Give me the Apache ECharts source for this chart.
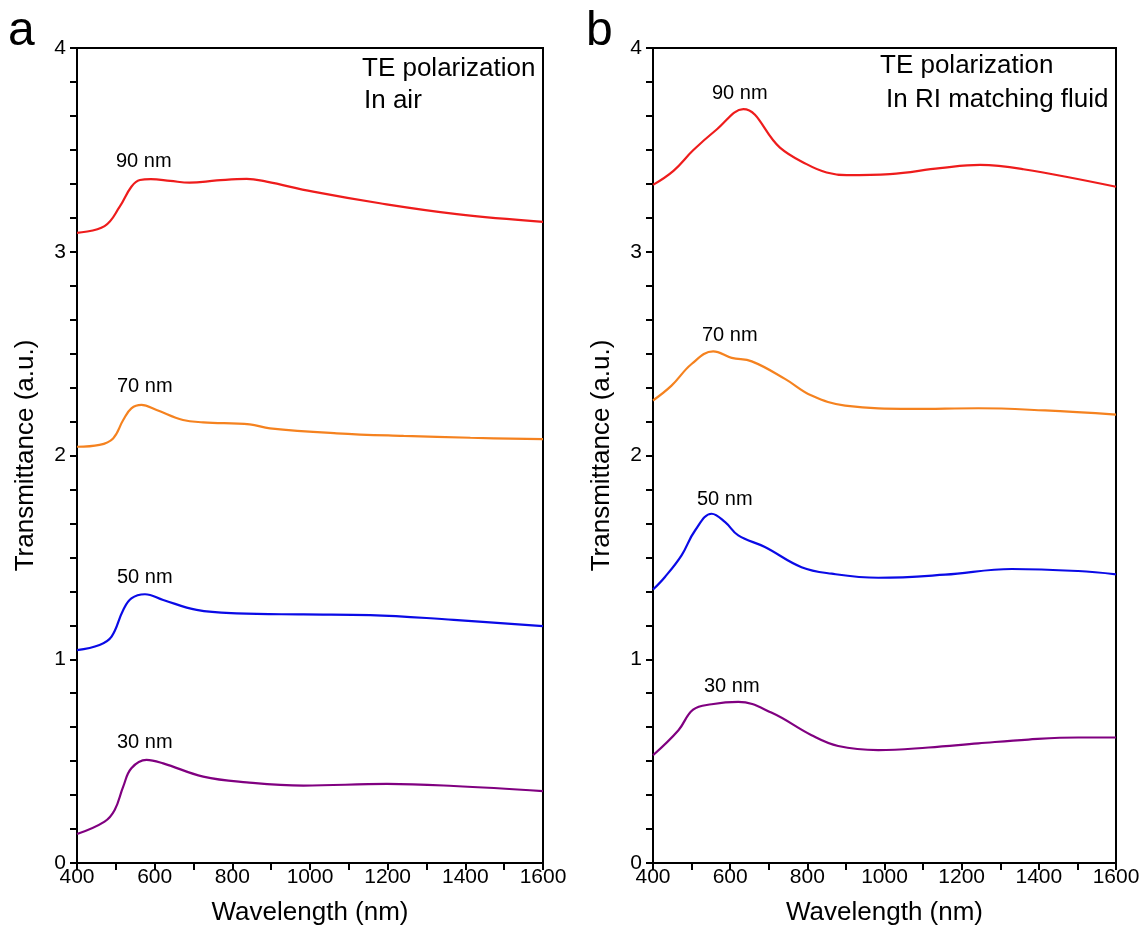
<!DOCTYPE html>
<html>
<head>
<meta charset="utf-8">
<script src="https://cdn.jsdelivr.net/npm/echarts@6/dist/echarts.min.js"></script>
<style>
html,body{margin:0;padding:0;background:#fff;}
#chart{width:1146px;height:926px;}
</style>
</head>
<body>
<div id="chart"></div>
<script>
// ---- Data (wavelength nm, transmittance a.u.) ----
const xTicks = [400, 600, 800, 1000, 1200, 1400, 1600];
const yTicks = [0, 1, 2, 3, 4];

// Panel a: TE polarization, in air
const a90 = [[400,3.093],[471,3.126],[510,3.221],[540,3.319],[562,3.352],[590,3.356],[640,3.348],[690,3.339],[760,3.350],[837,3.358],[888,3.344],[1008,3.295],[1180,3.238],[1378,3.185],[1600,3.147]];
const a70 = [[400,2.043],[458,2.052],[493,2.084],[519,2.174],[540,2.231],[566,2.248],[605,2.223],[673,2.174],[725,2.163],[845,2.153],[897,2.133],[1069,2.109],[1241,2.096],[1413,2.087],[1600,2.080]];
const a50 = [[400,1.045],[458,1.070],[489,1.111],[519,1.242],[540,1.299],[575,1.319],[622,1.291],[708,1.242],[811,1.225],[983,1.220],[1155,1.217],[1370,1.193],[1600,1.163]];
const a30 = [[400,0.142],[471,0.203],[497,0.260],[519,0.375],[540,0.465],[579,0.506],[622,0.489],[725,0.424],[837,0.396],[983,0.380],[1198,0.388],[1370,0.378],[1600,0.353]];

// Panel b: TE polarization, in RI matching fluid
const b90 = [[400,3.328],[453,3.397],[504,3.498],[565,3.600],[634,3.700],[729,3.511],[798,3.430],[850,3.389],[902,3.376],[1014,3.381],[1144,3.410],[1248,3.426],[1360,3.405],[1600,3.319]];
const b70 = [[400,2.270],[448,2.343],[500,2.449],[556,2.511],[604,2.479],[656,2.462],[742,2.376],[811,2.294],[898,2.245],[1071,2.229],[1243,2.232],[1416,2.221],[1600,2.201]];
const b50 = [[400,1.342],[431,1.404],[474,1.510],[509,1.632],[552,1.714],[587,1.673],[621,1.608],[690,1.551],[785,1.452],[863,1.420],[984,1.400],[1157,1.415],[1330,1.443],[1502,1.433],[1600,1.417]];
const b30 = [[400,0.529],[466,0.652],[504,0.753],[552,0.779],[621,0.791],[708,0.737],[811,0.627],[880,0.574],[984,0.554],[1114,0.567],[1243,0.587],[1373,0.606],[1502,0.616],[1600,0.616]];

const seriesNames = ['30 nm', '50 nm', '70 nm', '90 nm'];
const seriesColors = ['#800080', '#0a0ae6', '#f5821f', '#ee1c1c'];

// ---- Chart ----
const chart = echarts.init(document.getElementById('chart'), null, {renderer: 'canvas'});
const FONT = 'Liberation Sans, Arial, sans-serif';

function xAxis(idx) {
  return {
    gridIndex: idx, type: 'value', min: 400, max: 1600, interval: 200,
    name: 'Wavelength (nm)', nameLocation: 'middle', nameGap: 37,
    nameTextStyle: {fontFamily: FONT, fontSize: 26, color: '#000'},
    axisLine: {show: true, onZero: false, lineStyle: {color: '#000', width: 2}},
    axisTick: {show: true, inside: false, length: 7, lineStyle: {color: '#000', width: 2}},
    minorTick: {show: true, splitNumber: 2, length: 7, lineStyle: {color: '#000', width: 2}},
    axisLabel: {fontFamily: FONT, fontSize: 21, color: '#000', margin: 4,
      formatter: v => xTicks.includes(v) ? String(v) : ''},
    splitLine: {show: false}
  };
}
function yAxis(idx) {
  return {
    gridIndex: idx, type: 'value', min: 0, max: 4, interval: 1,
    name: 'Transmittance (a.u.)', nameLocation: 'middle', nameGap: 38,
    nameTextStyle: {fontFamily: FONT, fontSize: 26, color: '#000'},
    axisLine: {show: true, onZero: false, lineStyle: {color: '#000', width: 2}},
    axisTick: {show: true, inside: false, length: 7, lineStyle: {color: '#000', width: 2}},
    minorTick: {show: true, splitNumber: 6, length: 7, lineStyle: {color: '#000', width: 2}},
    axisLabel: {fontFamily: FONT, fontSize: 21, color: '#000', margin: 11,
      formatter: v => yTicks.includes(v) ? String(v) : ''},
    splitLine: {show: false}
  };
}
function line(name, data, color, idx) {
  return {
    name, type: 'line', xAxisIndex: idx, yAxisIndex: idx, data,
    smooth: 0.4, showSymbol: false, symbol: 'none',
    lineStyle: {color, width: 2.2}, itemStyle: {color}, animation: false
  };
}
function txt(left, top, text, size) {
  return {type: 'text', left, top, style: {text, fontFamily: FONT, fontSize: size, fill: '#000'}};
}

const panelA = [a30, a50, a70, a90];
const panelB = [b30, b50, b70, b90];
const series = [];
panelA.forEach((d, i) => series.push(line(seriesNames[i], d, seriesColors[i], 0)));
panelB.forEach((d, i) => series.push(line(seriesNames[i], d, seriesColors[i], 1)));

chart.setOption({
  backgroundColor: '#fff',
  animation: false,
  grid: [
    {left: 77, right: 603, top: 48, bottom: 63, show: true, borderColor: '#000', borderWidth: 2,
     backgroundColor: 'transparent', containLabel: false, outerBoundsMode: 'none'},
    {left: 653, right: 30, top: 48, bottom: 63, show: true, borderColor: '#000', borderWidth: 2,
     backgroundColor: 'transparent', containLabel: false, outerBoundsMode: 'none'}
  ],
  xAxis: [xAxis(0), xAxis(1)],
  yAxis: [yAxis(0), yAxis(1)],
  series,
  graphic: [
    txt(8, 8, 'a', 48),
    txt(586, 8, 'b', 48),
    txt(362, 56, 'TE polarization', 26),
    txt(364, 88, 'In air', 26),
    txt(880, 53, 'TE polarization', 26),
    txt(886, 87, 'In RI matching fluid', 26),
    txt(116, 151, '90 nm', 20),
    txt(117, 376, '70 nm', 20),
    txt(117, 567, '50 nm', 20),
    txt(117, 732, '30 nm', 20),
    txt(712, 83, '90 nm', 20),
    txt(702, 325, '70 nm', 20),
    txt(697, 489, '50 nm', 20),
    txt(704, 676, '30 nm', 20)
  ]
});
</script>
</body>
</html>
